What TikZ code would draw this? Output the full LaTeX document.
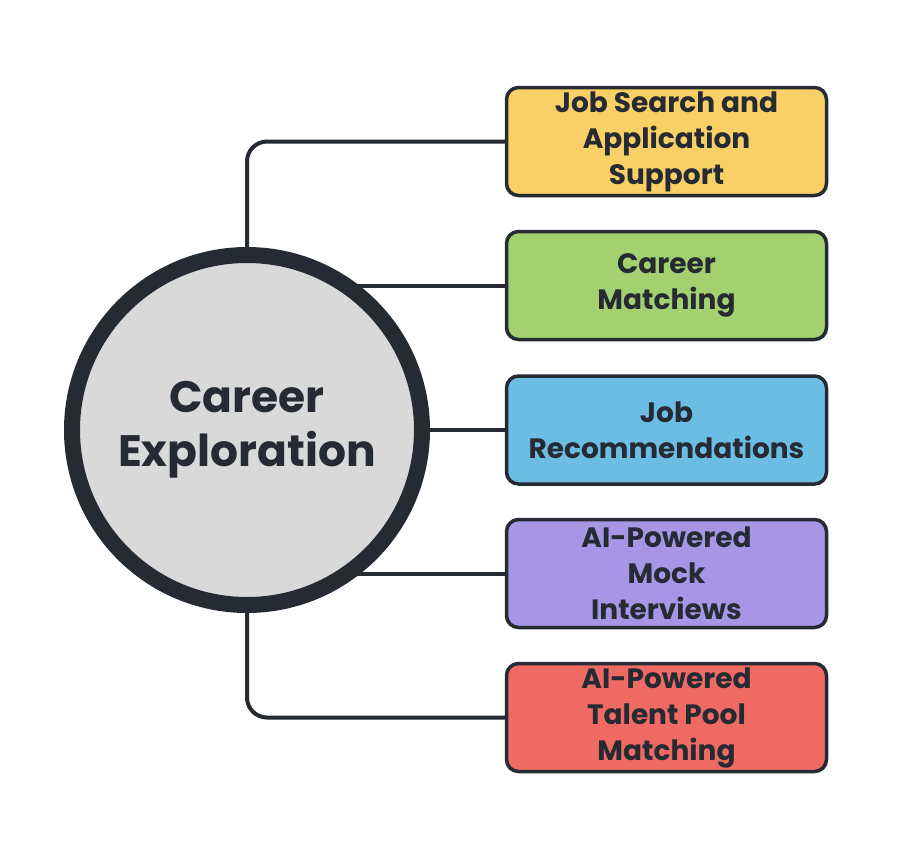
\documentclass[tikz,border=0pt]{standalone}
\usepackage{fontspec}
\setmainfont{Poppins}
\usetikzlibrary{backgrounds}
\definecolor{ink}{HTML}{262B33}
\definecolor{hubgray}{HTML}{D9D9D9}
\definecolor{cyellow}{HTML}{F8D066}
\definecolor{cgreen}{HTML}{A4D16F}
\definecolor{cblue}{HTML}{6CBDE3}
\definecolor{cpurple}{HTML}{A796E6}
\definecolor{cred}{HTML}{EE6A63}
\tikzset{
  topic/.style={draw=ink, line width=3.5pt, rounded corners=12pt, minimum width=320pt, minimum height=108pt, align=center, font=\fontsize{28}{36}\selectfont\bfseries, text=ink},
  link/.style={draw=ink, line width=4pt, rounded corners=20pt},
}
\begin{document}
\begin{tikzpicture}[x=1pt, y=-1pt]
\useasboundingbox (0,0) rectangle (924,860);
\node[circle, draw=ink, line width=16pt, fill=hubgray, minimum size=350pt, align=center, font=\fontsize{44}{54}\selectfont\bfseries, text=ink] (hub) at (247,430) {Career\\Exploration};
\node[topic, fill=cyellow] (T_1) at (666.5,141.5) {Job Search and\\Application\\Support};
\node[topic, fill=cgreen] (T_2) at (666.5,285.5) {Career\\Matching};
\node[topic, fill=cblue] (T_3) at (666.5,430) {Job\\Recommendations};
\node[topic, fill=cpurple] (T_4) at (666.5,573.5) {AI-Powered\\Mock\\Interviews};
\node[topic, fill=cred] (T_5) at (666.5,717.5) {AI-Powered\\Talent Pool\\Matching};
\begin{scope}[on background layer]
\draw[link] (hub.center) |- (T_1.west);
\draw[link] (T_2.west) -- (T_2.west -| hub.center);
\draw[link] (T_3.west) -- (hub.center);
\draw[link] (T_4.west) -- (T_4.west -| hub.center);
\draw[link] (hub.center) |- (T_5.west);
\end{scope}
\end{tikzpicture}
\end{document}
